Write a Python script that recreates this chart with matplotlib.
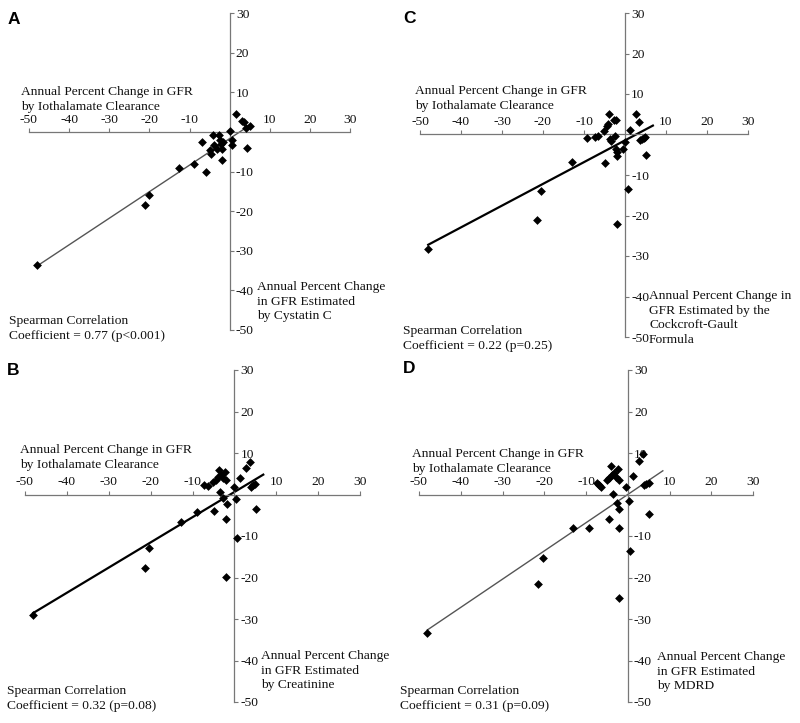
import matplotlib.pyplot as plt
import numpy as np

plt.rcParams["font.family"] = "Liberation Serif"
plt.rcParams["axes.unicode_minus"] = False

# Panel A: iothalamate vs cystatin C
a_x = [-48, -21, -20, -12.5, -9, -7, -6, -5, -4.7, -4.2, -3.8, -3.2, -2.7, -2.4,
       -2.2, -2, -1.8, -1.6, 0, 0.5, 0.5, 1.5, 3, 3.6, 4, 4.3, 5]
a_y = [-33.5, -18.5, -16, -9, -8, -2.5, -10, -4.5, -5.5, -0.7, -3.3, -4.2, -0.7, -2,
       -3, -4.3, -7, -2.5, 0.2, -2, -3.2, 4.5, 2.8, 2.4, 1, -4.1, 1.6]
a_fit = (-1.7, 0.67, 5.4)  # intercept, slope, line end

# Panel B: iothalamate vs creatinine
b_x = [-48, -21.3, -20.3, -12.7, -9, -7.2, -6.4, -5.2, -4.5, -4, -3.6, -3.2, -2.8,
       -2.2, -2, -4.8, -3.4, -2.6, -1.75, -2, -2, -0.2, 0.4, 0.6, 1.35, 2.8, 3.7,
       4, 4.5, 5, 5.2]
b_y = [-29.1, -17.8, -12.9, -6.6, -4.3, 2.4, 2, 3.1, 3.6, 4.3, 5.9, 4.7, 3.9,
       5.5, 3.5, -3.9, 0.6, -0.8, -2.3, -6, -19.9, 1.8, -1, -10.6, 4, 6.4, 7.9,
       1.8, 2.25, 2.65, -3.6]
b_fit = (0.6, 0.607, 6.9)

# Panel C: iothalamate vs Cockcroft-Gault
c_x = [-48, -21.5, -20.5, -13, -9.2, -7.3, -6.7, -5.1, -4.5, -4.2, -3.9, -3.7, -3.3,
       -2.8, -2.3, -4.9, -2.4, -2.3, -2, -2, -2, -0.4, 0, 0.8, 1.2, 2.6, 3.4, 3.7,
       4.1, 4.6, 4.9, 5]
c_y = [-28.3, -21, -14, -6.7, -0.8, -0.7, -0.3, 0.8, 2, 2.5, 5, -1.2, -1.7,
       3.7, 3.5, -7, -0.3, -3.7, -4.4, -5.2, -22, -3.6, -1.8, -13.5, 1, 5, 3.1,
       -1.4, -1.1, -0.8, -0.6, -5]
c_fit = (-1.45, 0.537, 6.8)

# Panel D: iothalamate vs MDRD
d_x = [-48, -21.4, -20.4, -13, -9.2, -7.3, -6.8, -6.4, -4.9, -4.4, -4, -3.8, -3.2,
       -2.8, -2.4, -2.2, -3.6, -2.6, -2, -4.6, -2.1, -2.1, -0.4, 0.3, 0.6, 1.2,
       2.6, 3.6, 3.9, 4.4, 5, 5.2]
d_y = [-33.4, -21.6, -15.3, -8, -8, 2.8, 2.4, 1.8, 3.6, 3.9, 6.8, 4.7, 5.1,
       4.3, 6.1, 3.6, 0.1, -2, -3.4, -6, -8, -24.9, 1.8, -1.5, -13.7, 4.4,
       8.1, 9.7, 2.3, 2.5, 2.8, -4.8]
d_fit = (0.0, 0.68, 8.4)

x_ticks = [-50, -40, -30, -20, -10, 10, 20, 30]
y_ticks = [30, 20, 10, -10, -20, -30, -40, -50]

x_label = "Annual Percent Change in GFR\nby Iothalamate Clearance"
panels = [
    # letter, rect (px: left, top, right, bottom), data, fit, line style, texts
    ("A", (29, 13, 350, 330), a_x, a_y, a_fit, ("#555555", 1.0),
     "Annual Percent Change\nin GFR Estimated\nby Cystatin C",
     "Spearman Correlation\nCoefficient = 0.77 (p<0.001)"),
    ("C", (420, 13, 748, 337), c_x, c_y, c_fit, ("black", 1.6),
     "Annual Percent Change in\nGFR Estimated by the\nCockcroft-Gault\nFormula",
     "Spearman Correlation\nCoefficient = 0.22 (p=0.25)"),
    ("B", (25, 370, 360, 702), b_x, b_y, b_fit, ("black", 1.6),
     "Annual Percent Change\nin GFR Estimated\nby Creatinine",
     "Spearman Correlation\nCoefficient = 0.32 (p=0.08)"),
    ("D", (419, 370, 753, 702), d_x, d_y, d_fit, ("#555555", 1.0),
     "Annual Percent Change\nin GFR Estimated\nby MDRD",
     "Spearman Correlation\nCoefficient = 0.31 (p=0.09)"),
]

# text anchors in pixels (left, top of first line)
text_pos = {
    "A": [(8, 12), (21, 86), (257, 281), (9, 315)],
    "C": [(403, 11), (415, 85), (649, 290), (403, 325)],
    "B": [(7, 363), (20, 444), (261, 650), (7, 685)],
    "D": [(403, 361), (412, 448), (657, 651), (400, 685)],
}

W, H = 800, 723
fig = plt.figure(figsize=(W / 100, H / 100), dpi=100)
fs = 9.7

for letter, (l, t, r, b), xs, ys, fit, (lc, lw), ylab, corr in panels:
    ax = fig.add_axes([l / W, 1 - b / H, (r - l) / W, (b - t) / H])
    ax.set_xlim(-50, 30)
    ax.set_ylim(-50, 30)
    ax.patch.set_visible(False)

    # axes crossing at the origin
    for side in ["left", "bottom"]:
        ax.spines[side].set_visible(False)
    ax.spines["top"].set_position(("data", 0))
    ax.spines["right"].set_position(("data", 0))
    for side in ["top", "right"]:
        ax.spines[side].set_color("#777777")
        ax.spines[side].set_linewidth(0.9)
    ax.xaxis.set_ticks_position("top")
    ax.yaxis.set_ticks_position("right")
    ax.set_xticks(x_ticks)
    ax.set_xticklabels([str(v) for v in x_ticks])
    ax.set_yticks(y_ticks)
    ax.set_yticklabels([str(v) for v in y_ticks])
    ax.tick_params(axis="both", length=3, width=0.8, color="#777777",
                   labelsize=fs, pad=1.5, labelcolor="#111111")

    # regression line
    icpt, slope, x_end = fit
    lx = np.array([min(xs), x_end])
    ax.plot(lx, icpt + slope * lx, color=lc, lw=lw, zorder=2)
    ax.scatter(xs, ys, marker="D", s=20, color="black", zorder=3,
               linewidths=0)

    pos = text_pos[letter]
    fig.text(pos[0][0] / W, 1 - pos[0][1] / H, letter, family="Liberation Sans",
             weight="bold", fontsize=12.5, va="top", ha="left")
    for (px, py), txt in zip(pos[1:], [x_label, ylab, corr]):
        fig.text(px / W, 1 - py / H, txt, fontsize=fs, va="top", ha="left",
                 linespacing=1.3, color="#111111")

fig.savefig("out.png", dpi=100)
